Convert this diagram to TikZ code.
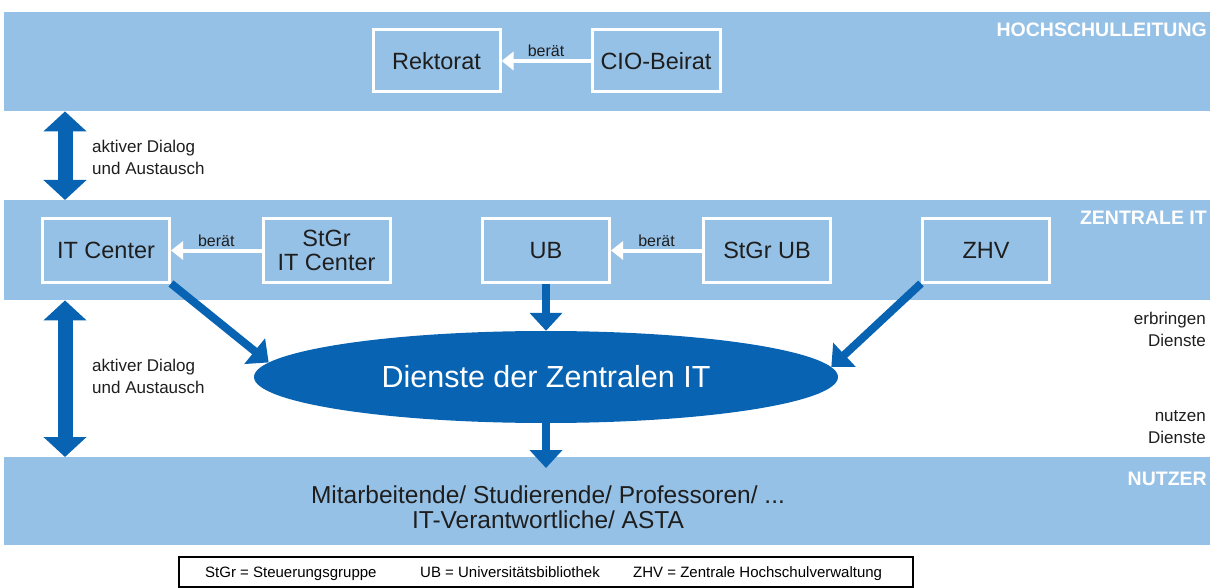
\documentclass[tikz,border=0pt]{standalone}
\usepackage{fontspec}
\setmainfont{Liberation Sans}
\usetikzlibrary{arrows.meta,shapes.geometric}

\definecolor{bandblue}{RGB}{150,193,230}
\definecolor{darkblue}{RGB}{8,100,178}
\definecolor{inktext}{RGB}{30,30,30}

\newcommand{\fs}[2]{\fontsize{#1}{#2}\selectfont}

\begin{document}
\begin{tikzpicture}[x=1pt,y=-1pt,
  band/.style={fill=bandblue, draw=none, inner sep=0pt, anchor=north west},
  bandtitle/.style={anchor=base east, inner sep=0pt, text=white, font=\fs{19.5}{21}\bfseries},
  unitbox/.style={draw=white, line width=3pt, minimum width=127pt, minimum height=62pt,
    inner sep=2pt, align=center, text=inktext, font=\fs{23.5}{24}},
  advises/.style={draw=white, line width=4pt, -{Triangle[width=18pt,length=12pt]}},
  advlabel/.style={above=2pt, inner sep=0pt, text=inktext, font=\fs{16}{18}},
  flow/.style={draw=darkblue, line width=8pt, -{Triangle[width=32pt,length=18pt]}},
  dialog/.style={draw=darkblue, line width=15pt,
    {Triangle[width=42pt,length=20pt]}-{Triangle[width=42pt,length=20pt]}},
  sidelabel/.style={inner sep=0pt, text=inktext, font=\fs{17}{22}},
  legendtext/.style={anchor=base west, inner sep=0pt, text=black, font=\fs{15}{17}}
]
\useasboundingbox (0,0) rectangle (1210,588);

% horizontal layers
\node[band, minimum width=1206pt, minimum height=99pt] (hsl) at (4,12) {};
\node[band, minimum width=1206pt, minimum height=100pt] (zit) at (4,200) {};
\node[band, minimum width=1206pt, minimum height=88pt] (nut) at (4,457) {};

\node[bandtitle] at (1207,37) {HOCHSCHULLEITUNG};
\node[bandtitle] at (1207,225) {ZENTRALE IT};
\node[bandtitle] at (1207,485) {NUTZER};

% university management
\node[unitbox] (rek) at (436.5,61) {Rektorat};
\node[unitbox, minimum width=128pt] (cio) at (656,61) {CIO-Beirat};
\draw[advises] (cio.west) -- node[advlabel] {berät} (rek.east);

% central IT units
\node[unitbox, minimum height=63pt] (itc) at (106,250.5) {IT Center};
\node[unitbox, minimum height=63pt] (stitc) at (326.5,250.5) {StGr\\IT Center};
\node[unitbox, minimum height=63pt] (ub) at (546,250.5) {UB};
\node[unitbox, minimum height=63pt] (stub) at (767,250.5) {StGr UB};
\node[unitbox, minimum height=63pt] (zhv) at (986,250.5) {ZHV};
\draw[advises] (stitc.west) -- node[advlabel] {berät} (itc.east);
\draw[advises] (stub.west) -- node[advlabel] {berät} (ub.east);

% services
\node[ellipse, fill=darkblue, minimum width=584pt, minimum height=92pt, inner sep=0pt,
  text=white, font=\fs{30.5}{31}] (dienste) at (546,377) {Dienste der Zentralen IT};

\draw[flow] (itc.south east) -- (dienste.177.5);
\draw[flow] (ub.south) -- (dienste.north);
\draw[flow] (zhv.south west) -- (dienste.2.5);

% users
\node[align=center, inner sep=0pt, text=inktext, font=\fs{24.5}{25}] (users) at (548,507)
  {Mitarbeitende/ Studierende/ Professoren/ ...\\IT-Verantwortliche/ ASTA};
\coordinate (usertip) at (546,468);
\draw[flow] (dienste.south) -- (usertip);

% dialog between the layers
\draw[dialog] (65,0 |- hsl.south) -- (65,0 |- zit.north);
\draw[dialog] (65,0 |- zit.south) -- (65,0 |- nut.north);
\node[sidelabel, anchor=west, align=left] at (92,157.5) {aktiver Dialog\\und Austausch};
\node[sidelabel, anchor=west, align=left] at (92,376.5) {aktiver Dialog\\und Austausch};

\node[sidelabel, anchor=east, align=right] at (1206,329) {erbringen\\Dienste};
\node[sidelabel, anchor=east, align=right] at (1206,427) {nutzen\\Dienste};

% abbreviations
\node[draw=black, line width=1.6pt, minimum width=734pt, minimum height=30pt,
  inner sep=0pt, anchor=north west] (legend) at (178,556) {};
\node[legendtext] at (205,577) {StGr = Steuerungsgruppe};
\node[legendtext] at (420,577) {UB = Universitätsbibliothek};
\node[legendtext] at (633,577) {ZHV = Zentrale Hochschulverwaltung};
\end{tikzpicture}
\end{document}
